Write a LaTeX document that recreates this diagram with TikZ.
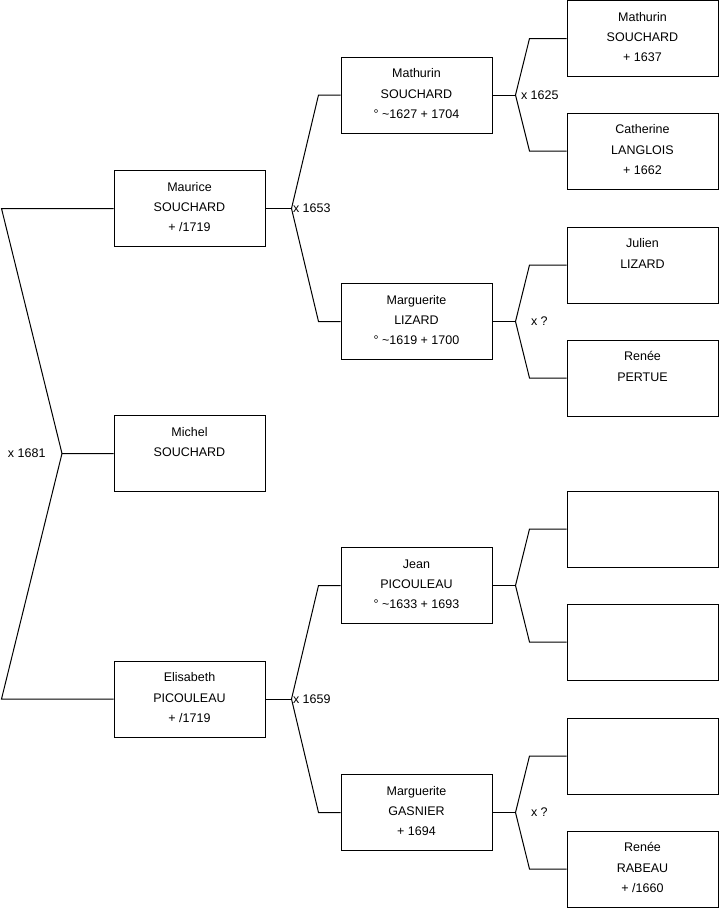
\documentclass[tikz,border=0pt]{standalone}
\usepackage{fontspec}
\setmainfont{Liberation Sans}
\usepackage{tikz}
\usetikzlibrary{positioning,calc}
\newcommand{\pers}[1]{\parbox[c][76pt][t]{151pt}{\centering\rule{0pt}{20.8pt}#1}}

\begin{document}
\begin{tikzpicture}[x=1pt,y=-1pt,line width=1pt,font=\fontsize{12.5}{20.3}\selectfont,
  pbox/.style={draw,inner sep=0pt,minimum width=151pt,minimum height=76pt},
  mlabel/.style={inner sep=1pt}]
  \useasboundingbox (0,0) rectangle (719,908);
  % generation 1
  \node[pbox] (mau) at (189.5,208.5) {\pers{Maurice\\SOUCHARD\\+ /1719}};
  \node[pbox] (mic) at (189.5,453.5) {\pers{Michel\\SOUCHARD}};
  \node[pbox] (eli) at (189.5,699) {\pers{Elisabeth\\PICOULEAU\\+ /1719}};
  % generation 2
  \node[pbox] (mat) at (416.5,95) {\pers{Mathurin\\SOUCHARD\\° \textasciitilde1627 + 1704}};
  \node[pbox] (mli) at (416.5,321.5) {\pers{Marguerite\\LIZARD\\° \textasciitilde1619 + 1700}};
  \node[pbox] (jea) at (416.5,585.5) {\pers{Jean\\PICOULEAU\\° \textasciitilde1633 + 1693}};
  \node[pbox] (mga) at (416.5,812.5) {\pers{Marguerite\\GASNIER\\+ 1694}};
  % generation 3
  \node[pbox] (mat2) at (642.5,38.5) {\pers{Mathurin\\SOUCHARD\\+ 1637}};
  \node[pbox] (cat) at (642.5,151) {\pers{Catherine\\LANGLOIS\\+ 1662}};
  \node[pbox] (jul) at (642.5,265) {\pers{Julien\\LIZARD}};
  \node[pbox] (rpe) at (642.5,378) {\pers{Renée\\PERTUE}};
  \node[pbox] (e1) at (642.5,529) {\pers{}};
  \node[pbox] (e2) at (642.5,642) {\pers{}};
  \node[pbox] (e3) at (642.5,756) {\pers{}};
  \node[pbox] (rra) at (642.5,869) {\pers{Renée\\RABEAU\\+ /1660}};
  % couples
  \coordinate (j0) at (62,453.5);
  \draw (mau.west)--++(-112,0)--(j0)--(mic.west);\draw (eli.west)--++(-112,0)--(j0);
  \node[mlabel,left=15pt of j0] (x0) {x 1681};
  \coordinate (j1) at ($(mau.east)+(26,0)$);
  \draw (mau.east)--(j1);\draw (mat.west)--++(-22,0)--(j1)--($(mli.west)+(-22,0)$)--(mli.west);
  \node[mlabel,right=0pt of j1] (x1) {x 1653};
  \coordinate (j2) at ($(eli.east)+(26,0)$);
  \draw (eli.east)--(j2);\draw (jea.west)--++(-22,0)--(j2)--($(mga.west)+(-22,0)$)--(mga.west);
  \node[mlabel,right=0pt of j2] (x2) {x 1659};
  \coordinate (j3) at ($(mat.east)+(23,0)$);
  \draw (mat.east)--(j3);\draw (mat2.west)--++(-37,0)--(j3)--($(cat.west)+(-37,0)$)--(cat.west);
  \node[mlabel,right=4pt of j3] (x3) {x 1625};
  \coordinate (j4) at ($(mli.east)+(23,0)$);
  \draw (mli.east)--(j4);\draw (jul.west)--++(-37,0)--(j4)--($(rpe.west)+(-37,0)$)--(rpe.west);
  \node[mlabel,right=14pt of j4] (x4) {x ?};
  \coordinate (j5) at ($(jea.east)+(23,0)$);
  \draw (jea.east)--(j5);\draw (e1.west)--++(-37,0)--(j5)--($(e2.west)+(-37,0)$)--(e2.west);
  \coordinate (j6) at ($(mga.east)+(23,0)$);
  \draw (mga.east)--(j6);\draw (e3.west)--++(-37,0)--(j6)--($(rra.west)+(-37,0)$)--(rra.west);
  \node[mlabel,right=14pt of j6] (x6) {x ?};
\end{tikzpicture}
\end{document}
